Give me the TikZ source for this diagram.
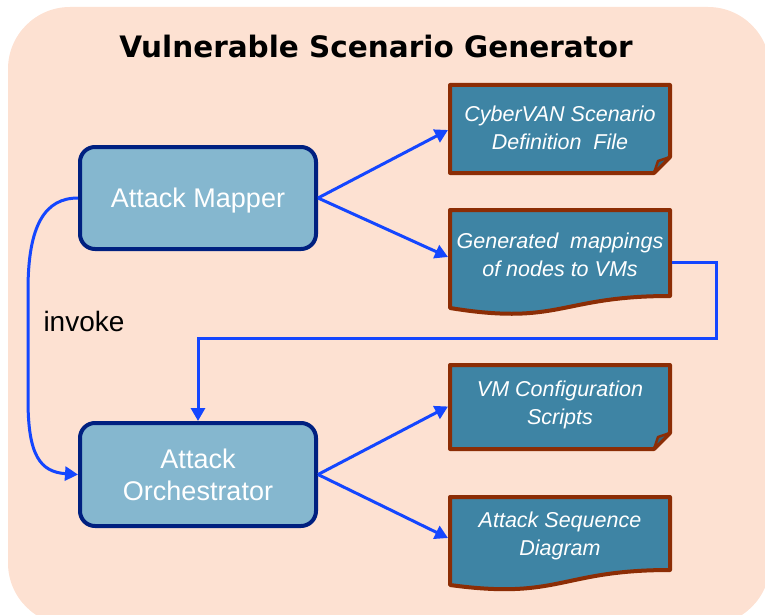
\documentclass[tikz,border=0pt]{standalone}
\usepackage{fontspec}
\setmainfont{Liberation Sans}
\newfontfamily\titlefont{DejaVu Sans}
\usetikzlibrary{arrows.meta}
\definecolor{bgpeach}{RGB}{253,225,210}
\definecolor{boxfill}{RGB}{133,183,207}
\definecolor{boxedge}{RGB}{0,32,128}
\definecolor{docfill}{RGB}{62,132,164}
\definecolor{docedge}{RGB}{140,45,5}
\definecolor{arrowblue}{RGB}{20,70,255}
\tikzset{
  procbox/.style={rectangle, rounded corners=15pt, draw=boxedge, line width=4pt,
    fill=boxfill, minimum width=236pt, minimum height=102pt, text=white,
    font=\fontsize{27}{32}\selectfont, align=center},
  doctext/.style={minimum width=224pt, minimum height=60pt, inner sep=0pt, outer sep=0pt,
    text=white, font=\fontsize{21.5}{28}\selectfont\itshape, align=center},
  docshape/.style={draw=docedge, fill=docfill, line width=4pt, line join=round},
  foldshape/.style={draw=docedge, fill=docfill!75!black, line width=2.5pt, line join=round},
  conn/.style={draw=arrowblue, line width=3pt, -{Triangle[length=13pt,width=14pt]}}
}
\begin{document}
\begin{tikzpicture}[x=1pt,y=-1pt]
\useasboundingbox (0,0) rectangle (765,615);
\clip (0,0) rectangle (765,615);
\fill[bgpeach, rounded corners=62pt] (8,7) rectangle (770,625);

% title
\node[anchor=base, font=\titlefont\bfseries\fontsize{29.5}{34}\selectfont] (title) at (376,58) {Vulnerable Scenario Generator};

% process boxes
\node[procbox] (mapper) at (198,198) {};
\node[anchor=base, text=white, font=\fontsize{27}{32}\selectfont] (mappertext) at (198,207) {Attack Mapper};
\node[procbox, minimum height=103pt] (orch) at (198,474.5) {Attack\\Orchestrator};

% document shapes
\path[docshape] (450,85) -- (670,85) -- (670,157) -- (654,173) -- (450,173) -- cycle;
\path[foldshape] (654,173) -- (658,161) -- (670,157) -- cycle;
\path[docshape] (450,210) -- (670,210) -- (670,296) .. controls (560,296) and (560,326) .. (450,308) -- cycle;
\path[docshape] (450,365) -- (670,365) -- (670,433) -- (654,449) -- (450,449) -- cycle;
\path[foldshape] (654,449) -- (658,437) -- (670,433) -- cycle;
\path[docshape] (450,497) -- (670,497) -- (670,570) .. controls (560,570) and (560,600) .. (450,585) -- cycle;

\node[doctext] (doc1) at (560,128) {CyberVAN Scenario\\Definition\ \ File};
\node[doctext] (doc2) at (560,255) {Generated\ \ mappings\\of nodes to VMs};
\node[doctext] (doc3) at (560,404.5) {VM Configuration\\Scripts};
\node[doctext] (doc4) at (560,536) {Attack Sequence\\Diagram};

% invoke label
\node[font=\fontsize{28}{32}\selectfont, text=black] (invoke) at (84,321) {invoke};

% connectors
\draw[conn] (mapper.east) -- ([yshift=-2pt]doc1.west);
\draw[conn] (mapper.east) -- ([yshift=-2pt]doc2.west);
\draw[conn] (orch.east) -- ([yshift=-2pt]doc3.west);
\draw[conn] (orch.east) -- ([yshift=-2pt]doc4.west);
\draw[conn] ([yshift=-7pt]doc2.east) -| (716,338) -| (orch.north);
\draw[conn] (mapper.west) .. controls (45,198) and (28,225) .. (28,290) -- (28,400) .. controls (28,455) and (40,472) .. (orch.west);
\end{tikzpicture}
\end{document}
